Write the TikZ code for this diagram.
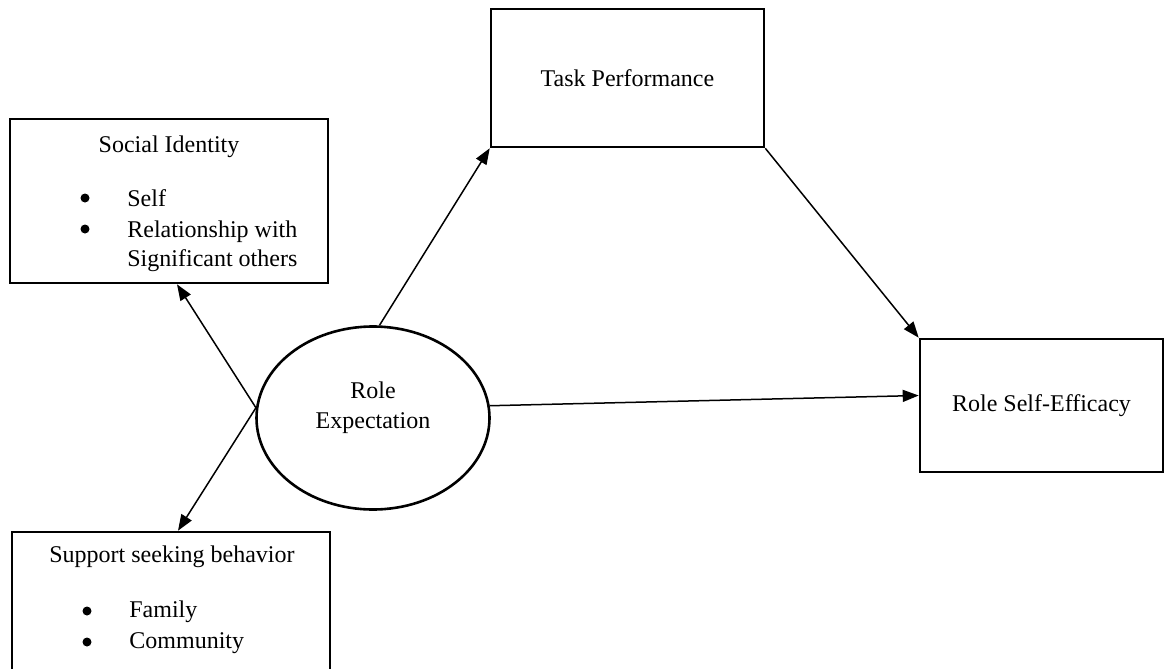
\documentclass[tikz,border=0pt]{standalone}
\usepackage{fontspec}
\setmainfont{Liberation Serif}
\usetikzlibrary{arrows.meta,shapes.geometric}
\tikzset{
  box/.style  ={draw, line width=1.3pt, inner sep=0pt, align=center,
                font=\fontsize{12}{15}\selectfont},
  oval/.style ={ellipse, draw, line width=1.3pt, inner sep=0pt},
  txt/.style  ={inner sep=0pt, font=\fontsize{12}{15}\selectfont},
  dot/.style  ={circle, fill, inner sep=0pt, minimum size=4.5pt},
  fl/.style   ={-{Triangle[length=8pt,width=6pt]}, line width=0.75pt},
}

\begin{document}
\begin{tikzpicture}[x=0.5pt,y=-0.5pt]
  \useasboundingbox (0,0) rectangle (1167,669);

  % ---- left boxes ----------------------------------------------------
  \node[box, minimum width=159pt, minimum height=82pt] (social) at (169,201) {};
  \node[txt, anchor=base] (socialttl) at (169,152) {Social Identity};
  \node[txt, anchor=base west] (self) at (127,206) {Self};
  \node[txt, anchor=base west] (relation) at (127,237) {Relationship with};
  \node[txt, anchor=base west] (significant) at (127,266) {Significant others};
  \node[dot] (selfdot) at (85,198) {};
  \node[dot] (relationdot) at (85,229) {};

  \node[box, minimum width=159pt, minimum height=84pt] (support) at (171,616) {};
  \node[txt, anchor=base] (supportttl) at (172,562) {Support seeking behavior};
  \node[txt, anchor=base west] (family) at (129,617) {Family};
  \node[txt, anchor=base west] (community) at (129,648) {Community};
  \node[dot] (familydot) at (87,611) {};
  \node[dot] (communitydot) at (87,642) {};

  % ---- centre and right ----------------------------------------------
  \node[oval, minimum width=116.5pt, minimum height=91.5pt] (role) at (373,418) {};
  \node[txt, align=center] (roletxt) at (373,408) {Role\\Expectation};

  \node[box, minimum width=136.5pt, minimum height=69pt] (task) at (627.5,78)
        {Task Performance};
  \node[box, minimum width=121.5pt, minimum height=66.5pt] (rse) at (1041.5,405.5)
        {Role Self-Efficacy};

  \draw[fl] (role.175) -- ([xshift=4pt]social.south);
  \draw[fl] (role.175) -- ([xshift=3.5pt]support.north);
  \draw[fl] (role.86) -- (task.south west);
  \draw[fl] (task.south east) -- (rse.north west);
  \draw[fl] (role.6) -- ([yshift=5pt]rse.west);
\end{tikzpicture}
\end{document}
